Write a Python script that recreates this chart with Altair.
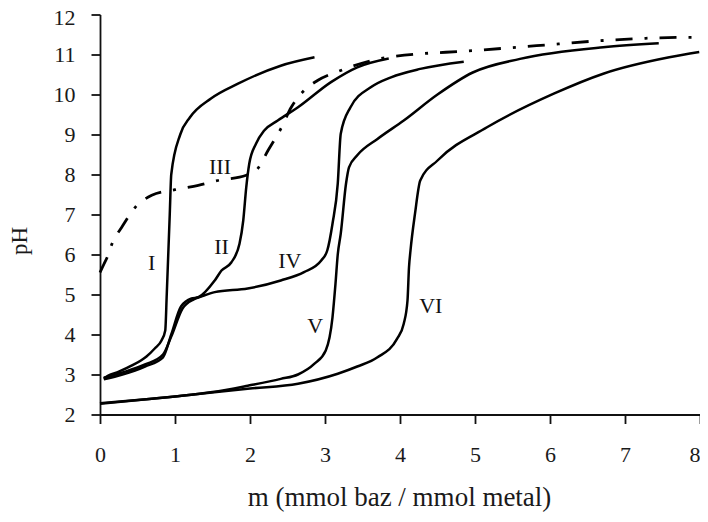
import altair as alt
import pandas as pd

# ---- data ----
I_m = [0.05, 0.11, 0.25, 0.42, 0.62, 0.73, 0.82, 0.87, 0.89, 0.91, 0.93, 0.95, 1.07, 1.2, 1.48, 1.84, 2.41, 2.86]
I_pH = [2.9, 2.97, 3.07, 3.22, 3.45, 3.65, 3.85, 4.1, 5.0, 6.0, 7.0, 8.0, 9.0, 9.43, 9.9, 10.27, 10.72, 10.93]

II_m = [0.05, 0.3, 0.6, 0.84, 0.95, 1.08, 1.22, 1.31, 1.53, 1.62, 1.75, 1.86, 1.91, 1.95, 1.99, 2.08, 2.19, 2.37, 2.64, 3.08, 3.43, 3.85]
II_pH = [2.88, 3.0, 3.2, 3.43, 4.0, 4.7, 4.9, 4.93, 5.35, 5.6, 5.8, 6.27, 6.85, 7.68, 8.27, 8.77, 9.1, 9.35, 9.68, 10.31, 10.68, 10.9]

IV_m = [0.05, 0.3, 0.6, 0.84, 0.95, 1.1, 1.25, 1.35, 1.53, 1.97, 2.41, 2.72, 2.95, 3.03, 3.1, 3.17, 3.21, 3.34, 3.61, 3.88, 4.27, 4.85]
IV_pH = [2.92, 3.05, 3.25, 3.5, 3.95, 4.65, 4.88, 4.95, 5.06, 5.15, 5.35, 5.56, 5.85, 6.1, 6.77, 7.77, 9.02, 9.68, 10.18, 10.43, 10.64, 10.82]

V_m = [0.0, 0.5, 1.0, 1.5, 1.97, 2.41, 2.64, 2.86, 3.01, 3.1, 3.14, 3.17, 3.21, 3.28, 3.32, 3.43, 3.7, 4.05, 4.5, 4.97, 5.6, 6.71, 7.45]
V_pH = [2.28, 2.36, 2.45, 2.56, 2.72, 2.89, 3.0, 3.27, 3.6, 4.43, 5.27, 6.0, 6.52, 7.77, 8.18, 8.48, 8.89, 9.35, 10.0, 10.55, 10.89, 11.18, 11.28]

VI_m = [0.0, 1.0, 2.0, 2.64, 3.17, 3.43, 3.7, 3.96, 4.05, 4.1, 4.12, 4.14, 4.2, 4.27, 4.5, 5.16, 6.05, 6.71, 7.59, 7.99]
VI_pH = [2.27, 2.45, 2.65, 2.77, 3.02, 3.2, 3.43, 3.89, 4.27, 4.85, 5.68, 6.1, 7.02, 7.85, 8.35, 9.18, 10.02, 10.52, 10.93, 11.06]

III_m = [0.0, 0.05, 0.1, 0.16, 0.29, 0.47, 0.69, 1.0, 1.31, 1.57, 1.95, 2.1, 2.24, 2.41, 2.55, 2.7, 2.9, 3.21, 3.83, 5.0, 5.82, 6.71, 7.86, 8.0]
III_pH = [5.55, 5.75, 5.95, 6.27, 6.68, 7.18, 7.48, 7.62, 7.73, 7.85, 7.98, 8.14, 8.6, 9.14, 9.68, 10.06, 10.35, 10.6, 10.93, 11.1, 11.22, 11.35, 11.43, 11.43]

label_text = ["I", "II", "III", "IV", "V", "VI"]
label_m = [0.69, 1.62, 1.6, 2.53, 2.87, 4.41]
label_pH = [5.8, 6.18, 8.18, 5.85, 4.22, 4.72]

x_ticks = [0, 1, 2, 3, 4, 5, 6, 7, 8]
y_ticks = [2, 3, 4, 5, 6, 7, 8, 9, 10, 11, 12]

# ---- tables ----
rows = []
for name, xs, ys in [("I", I_m, I_pH), ("II", II_m, II_pH), ("IV", IV_m, IV_pH),
                     ("V", V_m, V_pH), ("VI", VI_m, VI_pH)]:
    for k, (a, b) in enumerate(zip(xs, ys)):
        rows.append({"curve": name, "i": k, "m": a, "pH": b})
solid_df = pd.DataFrame(rows)
dash_df = pd.DataFrame({"curve": "III", "i": list(range(len(III_m))), "m": III_m, "pH": III_pH})
lab_df = pd.DataFrame({"t": label_text, "m": label_m, "pH": label_pH})

FONT = "Liberation Serif"

x_axis = alt.Axis(values=x_ticks, format="d", title="m (mmol baz / mmol metal)",
                  labelAlign={"condition": {"test": "datum.value == 8", "value": "right"}, "value": "center"},
                  labelPadding=21, titleFontSize=27,
                  titleX=299, titleY=91, titleAlign="center", titleBaseline="alphabetic")
y_axis = alt.Axis(values=y_ticks, tickCount=11, format="d", title="pH",
                  labelOffset={"condition": {"test": "datum.value == 12", "value": 3}, "value": 0},
                  labelPadding=16, titleFontSize=23, titleAngle=270,
                  titleX=-81, titleY=226, titleAlign="center", titleBaseline="middle")

x_enc = alt.X("m:Q", scale=alt.Scale(domain=[0, 8], nice=False), axis=x_axis)
y_enc = alt.Y("pH:Q", scale=alt.Scale(domain=[2, 12], nice=False), axis=y_axis)

solid = alt.Chart(solid_df).mark_line(color="black", strokeWidth=2.5, interpolate="monotone").encode(
    x=x_enc, y=y_enc, detail="curve:N", order="i:Q")
dash = alt.Chart(dash_df).mark_line(color="black", strokeWidth=2.8, interpolate="monotone",
                                    strokeDash=[17, 12, 3, 12]).encode(
    x=x_enc, y=y_enc, order="i:Q")
labels = alt.Chart(lab_df).mark_text(font=FONT, fontSize=22, color="#111", align="center",
                                     baseline="middle").encode(x=x_enc, y=y_enc, text="t:N")

chart = alt.layer(solid, dash, labels).properties(
    width=600, height=400,
    autosize=alt.AutoSizeParams(type="none"),
    padding={"left": 92, "top": 6.5, "right": 0, "bottom": 98.5},
    background="white",
).configure_view(stroke=None).configure_axis(
    grid=False, labelOverlap=False, labelFlush=False, labelBound=False,
    tickSize=9, labelFont=FONT, labelFontSize=22, labelColor="#1a1a1a",
    domainColor="#111", domainWidth=1.8, tickColor="#111", tickWidth=1.8,
    titleFont=FONT, titleFontWeight="normal", titleColor="#1a1a1a",
)

chart.save("out.html", embed_options={"renderer": "svg", "actions": False})
